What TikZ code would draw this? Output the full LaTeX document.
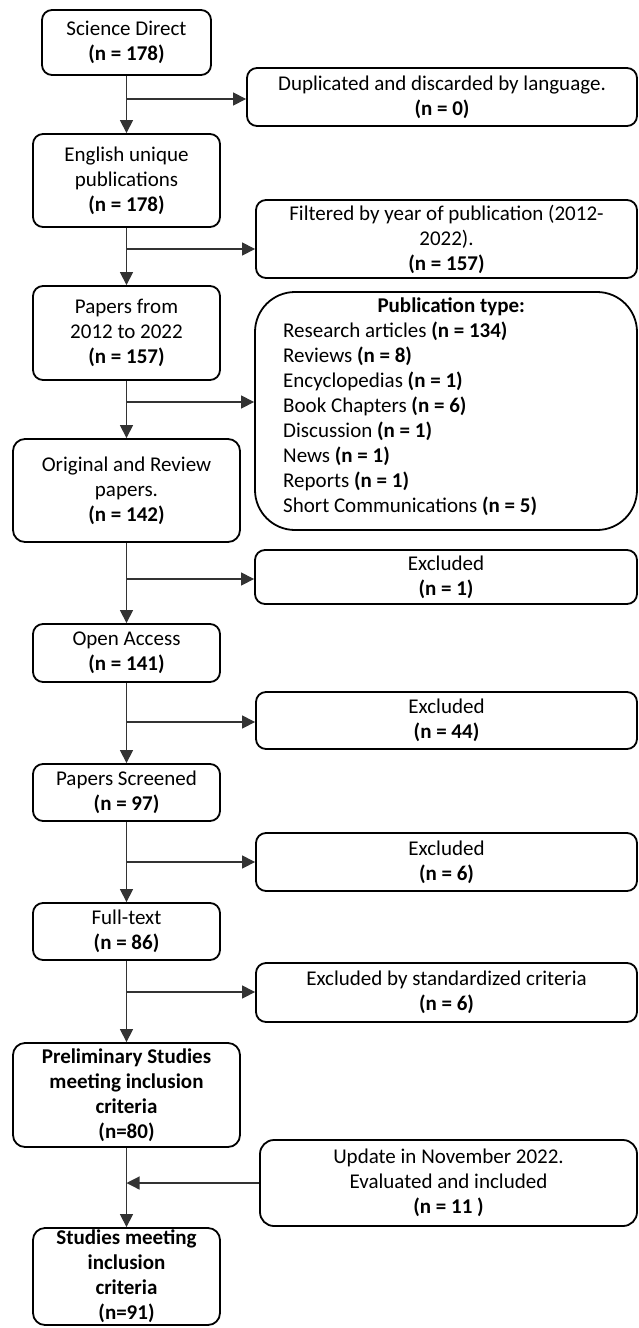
\documentclass[tikz,border=0pt]{standalone}
\usepackage{fontspec}
\setmainfont{Carlito}
\usetikzlibrary{arrows.meta}
\newcommand{\fsz}{\fontsize{21}{25}\selectfont}
\tikzset{
  box/.style={draw, line width=1.8pt, rounded corners=10pt, align=center, inner sep=0pt, font=\fsz},
  conn/.style={line width=1.2pt, draw=black!80},
  arr/.style={conn, -{Triangle[length=13pt,width=13pt]}},
}
\begin{document}
\begin{tikzpicture}[x=1pt,y=-1pt]
\useasboundingbox (0,0) rectangle (639,1328);
% left column
\node[box, minimum width=169pt, minimum height=65pt] (L1) at (126.5,42.5) {Science Direct\\\textbf{(n = 178)}};
\node[box, minimum width=187pt, minimum height=93pt] (L2) at (126.5,180.5) {English unique\\publications\\\textbf{(n = 178)}};
\node[box, minimum width=187pt, minimum height=94pt] (L3) at (126.5,333) {Papers from\\2012 to 2022\\\textbf{(n = 157)}};
\node[box, minimum width=227pt, minimum height=103pt, rounded corners=12pt] (L4) at (126.5,490.5) {Original and Review\\papers.\\\textbf{(n = 142)}};
\node[box, minimum width=187pt, minimum height=58pt] (L5) at (126.5,653) {Open Access\\\textbf{(n = 141)}};
\node[box, minimum width=187pt, minimum height=57pt] (L6) at (126.5,792.5) {Papers Screened\\\textbf{(n = 97)}};
\node[box, minimum width=187pt, minimum height=57pt] (L7) at (126.5,931.5) {Full-text\\\textbf{(n = 86)}};
\node[box, minimum width=227pt, minimum height=104pt, rounded corners=12pt, font=\fsz\bfseries] (L8) at (126.5,1095) {Preliminary Studies\\meeting inclusion\\criteria\\(n=80)};
\node[box, minimum width=187pt, minimum height=97pt, rounded corners=12pt, font=\fsz\bfseries] (L9) at (126.5,1276.5) {Studies meeting\\inclusion\\criteria\\(n=91)};
% right column
\node[box, minimum width=390pt, minimum height=58pt] (R1) at (442,97) {Duplicated and discarded by language.\\\textbf{(n = 0)}};
\node[box, minimum width=381pt, minimum height=78pt] (R2) at (446.5,239) {Filtered by year of publication (2012-\\2022).\\\textbf{(n = 157)}};
\node[box, minimum width=382pt, minimum height=238pt, rounded corners=40pt] (R3) at (446,411) {};
\node[anchor=north west, inner sep=0pt, text width=336pt, align=flush left, font=\fsz] (R3t) at (283,298) {\makebox[336pt]{\textbf{Publication type:}}\\
Research articles \textbf{(n = 134)}\\
Reviews \textbf{(n = 8)}\\
Encyclopedias \textbf{(n = 1)}\\
Book Chapters \textbf{(n = 6)}\\
Discussion \textbf{(n = 1)}\\
News \textbf{(n = 1)}\\
Reports \textbf{(n = 1)}\\
Short Communications \textbf{(n = 5)}};
\node[box, minimum width=382pt, minimum height=54pt] (R4) at (446,577) {Excluded\\\textbf{(n = 1)}};
\node[box, minimum width=381pt, minimum height=57pt] (R5) at (446.5,720.5) {Excluded\\\textbf{(n = 44)}};
\node[box, minimum width=381pt, minimum height=58pt] (R6) at (446.5,862) {Excluded\\\textbf{(n = 6)}};
\node[box, minimum width=381pt, minimum height=59pt] (R7) at (446.5,992.5) {Excluded by standardized criteria\\\textbf{(n = 6)}};
\node[box, minimum width=377pt, minimum height=86pt, rounded corners=14pt] (R8) at (448.5,1183) {Update in November 2022.\\Evaluated and included\\\textbf{(n = 11 )}};
% trunk
\draw[arr] (L1) -- (L2);
\draw[arr] (L2) -- (L3);
\draw[arr] (L3) -- (L4);
\draw[arr] (L4) -- (L5);
\draw[arr] (L5) -- (L6);
\draw[arr] (L6) -- (L7);
\draw[arr] (L7) -- (L8);
\draw[arr] (L8) -- (L9);
% branches
\coordinate (b1) at (126.5,99);
\coordinate (b2) at (126.5,249);
\coordinate (b3) at (126.5,402);
\coordinate (b4) at (126.5,579);
\coordinate (b5) at (126.5,722);
\coordinate (b6) at (126.5,862);
\coordinate (b7) at (126.5,992);
\coordinate (b8) at (126.5,1183);
\draw[arr] (b1) -- (b1 -| R1.west);
\draw[arr] (b2) -- (b2 -| R2.west);
\draw[arr] (b3) -- (b3 -| R3.west);
\draw[arr] (b4) -- (b4 -| R4.west);
\draw[arr] (b5) -- (b5 -| R5.west);
\draw[arr] (b6) -- (b6 -| R6.west);
\draw[arr] (b7) -- (b7 -| R7.west);
\draw[arr] (R8.west) -- (b8);
\end{tikzpicture}
\end{document}
